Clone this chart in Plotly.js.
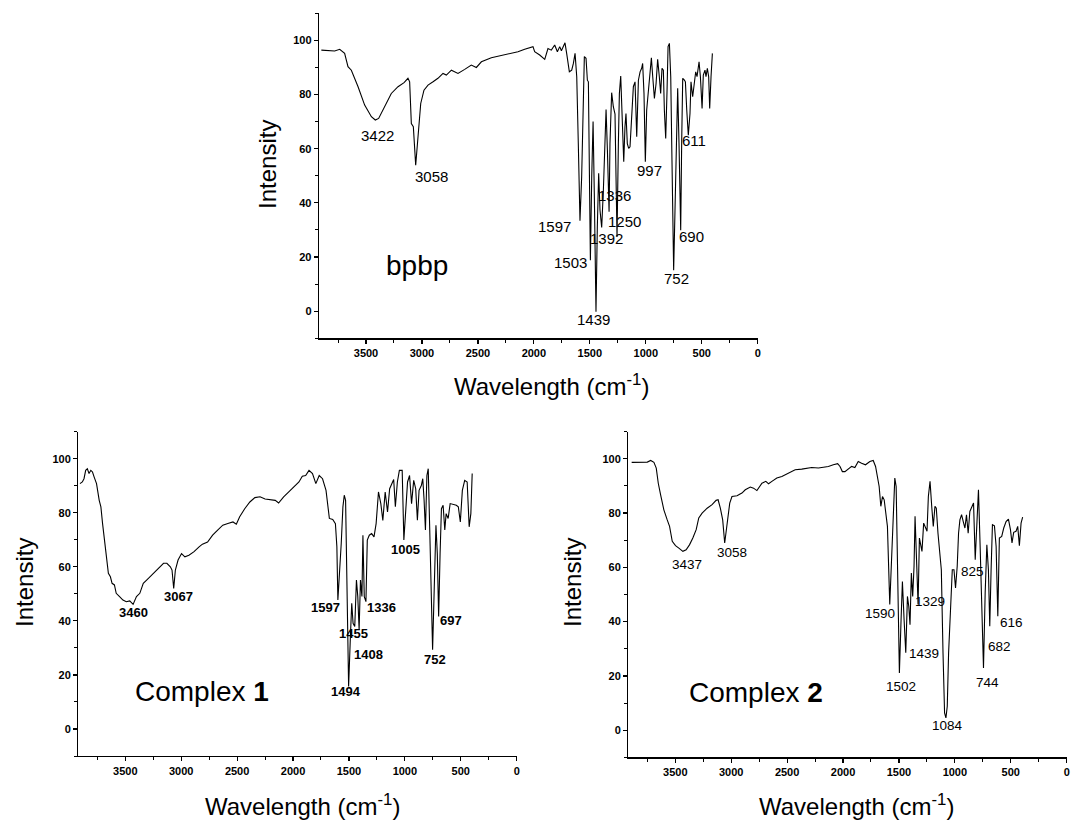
<!DOCTYPE html>
<html><head><meta charset="utf-8">
<script src="https://cdn.plot.ly/plotly-3.0.1.min.js"></script>
<style>html,body{margin:0;padding:0;background:#fff}#chart{width:1072px;height:820px}</style>
</head><body><div id="chart"></div>
<script>
// ---- bpbp spectrum ----
const bpbpWn = [3899,3840,3780,3735,3691,3661,3631,3571,3512,3452,3417,3387,3333,3274,3214,3160,3125,3110,3095,3077,3056,3035,3011,2982,2946,2901,2857,2812,2782,2737,2678,2618,2559,2514,2469,2380,2261,2142,2082,2008,1993,1948,1903,1874,1844,1814,1790,1769,1754,1722,1707,1683,1662,1647,1632,1617,1603,1588,1573,1558,1549,1534,1522,1513,1504,1495,1483,1471,1460,1445,1433,1421,1409,1394,1379,1364,1355,1343,1328,1320,1305,1290,1275,1266,1257,1245,1236,1224,1212,1197,1186,1177,1165,1153,1141,1126,1111,1096,1081,1066,1051,1037,1028,1016,1004,992,977,962,950,938,923,908,894,879,867,855,843,834,822,810,801,789,777,766,751,739,724,715,703,688,679,670,655,646,634,620,605,596,581,569,554,542,524,512,497,486,471,462,450,438,429,417,405];
const bpbpT = [96.4,96.2,96.1,96.7,95.2,90.3,89.0,82.9,76.1,71.8,70.6,71.2,75.5,80.4,82.9,84.4,86.0,84.7,69.3,68.1,53.9,64.4,76.7,81.6,83.5,84.7,86.0,87.8,87.2,89.0,87.8,89.3,90.9,90.0,92.1,93.6,94.6,95.8,96.7,97.7,95.8,94.6,93.0,97.0,96.4,98.3,95.8,97.7,96.2,99.1,95.2,88.4,89.0,91.5,95.2,86.6,61.9,33.4,49.6,86.6,94.0,93.4,85.3,84.7,49.6,18.8,49.6,70.0,43.5,-0.2,31.2,50.9,37.3,30.9,44.7,68.1,74.5,59.5,36.7,61.9,80.7,75.5,72.8,49.6,27.5,61.9,80.4,86.8,74.3,55.2,68.1,73.0,61.9,60.1,60.7,74.3,82.9,84.7,64.4,85.3,88.4,89.7,91.5,80.4,55.2,74.3,81.6,89.0,93.6,86.6,78.6,84.1,93.0,86.6,80.4,89.7,89.0,74.3,63.8,81.6,97.7,98.9,86.6,55.8,15.1,37.3,74.3,82.3,61.9,29.9,63.2,86.0,85.3,84.7,74.3,65.0,73.0,84.7,79.2,83.5,88.4,86.6,92.1,86.6,74.9,87.2,89.0,86.6,89.7,86.6,74.9,86.6,95.2];
const bpbpLabels = ['3422','3058','1597','1336','1250','1392','1503','1439','997','611','690','752'];
const bpbpLabelX = [3396,2919,1820,1281,1194,1349,1677,1469,971,566,590,724];
const bpbpLabelY = [64.7,49.6,31.2,42.9,33.0,26.8,18.0,-3.1,51.8,63.2,27.7,12.1];

// ---- Complex 1 spectrum ----
const c1Wn = [3905,3884,3869,3854,3839,3824,3808,3793,3778,3757,3733,3718,3703,3687,3666,3651,3633,3618,3597,3581,3551,3521,3491,3460,3430,3400,3370,3339,3309,3279,3249,3218,3188,3158,3128,3097,3082,3067,3052,3028,2997,2967,2931,2885,2840,2810,2764,2719,2674,2628,2583,2537,2507,2477,2432,2386,2341,2295,2250,2205,2159,2129,2084,2038,1993,1947,1917,1887,1857,1826,1796,1766,1736,1705,1675,1645,1621,1608,1599,1584,1569,1554,1542,1530,1518,1503,1487,1475,1463,1448,1433,1421,1409,1397,1384,1375,1363,1348,1336,1318,1297,1276,1257,1236,1215,1197,1176,1155,1136,1115,1100,1085,1067,1049,1024,1009,994,976,958,940,921,903,888,873,852,840,828,816,803,791,776,752,737,722,710,698,685,673,658,643,631,613,595,570,540,522,504,486,465,443,425,410,398];
const c1T = [90.8,91.4,92.6,95.7,96.3,94.5,95.7,95.1,93.2,90.8,84.6,82.2,76.0,69.9,62.5,57.6,56.3,53.9,53.3,50.2,49.0,47.7,47.1,47.4,46.1,49.0,50.2,53.9,55.1,56.3,57.6,58.8,60.0,61.3,61.3,60.0,58.8,52.0,58.8,62.5,64.9,63.7,64.3,65.6,67.4,68.4,69.2,71.7,73.6,75.4,76.0,76.6,75.8,78.5,81.5,84.0,85.6,85.9,85.1,84.9,84.6,83.6,85.9,87.7,89.5,91.4,93.5,93.8,95.7,94.5,90.8,93.8,92.6,88.3,77.9,77.5,76.0,67.4,47.7,56.3,68.6,82.2,86.5,84.6,55.1,15.7,34.2,46.5,39.1,37.9,55.1,49.0,36.7,55.1,49.0,71.7,49.0,47.1,69.9,71.7,72.3,71.1,76.0,87.7,83.4,77.2,87.7,80.3,88.9,90.8,92.3,82.2,91.4,95.7,95.7,69.9,80.9,91.4,93.8,83.4,92.0,88.9,77.2,88.3,90.2,92.6,84.6,73.6,93.8,96.3,71.1,29.3,52.6,75.4,64.9,41.6,64.9,81.5,82.8,73.6,79.7,77.9,83.4,83.2,82.8,82.2,76.6,88.3,92.0,91.4,74.8,79.7,94.5];
const c1Labels = ['3460','3067','1597','1336','1455','1408','1494','1005','752','697'];
const c1LabelX = [3430,3028,1714,1206,1463,1321,1524,994,730,585];
const c1LabelY = [43.2,49.2,44.9,44.9,35.2,27.4,13.9,66.4,25.6,40.3];

// ---- Complex 2 spectrum ----
const c2Wn = [3890,3824,3750,3720,3691,3670,3652,3631,3602,3572,3551,3527,3498,3468,3432,3403,3373,3343,3313,3290,3260,3215,3171,3135,3117,3097,3076,3058,3037,3013,2993,2948,2904,2874,2829,2800,2770,2725,2690,2666,2636,2592,2547,2488,2428,2369,2324,2280,2220,2176,2131,2087,2048,2027,2006,1983,1953,1923,1894,1864,1834,1799,1760,1730,1709,1692,1677,1662,1647,1632,1617,1603,1582,1567,1552,1537,1525,1513,1496,1481,1469,1454,1439,1424,1412,1401,1389,1377,1365,1356,1344,1329,1317,1305,1294,1279,1264,1249,1237,1222,1207,1193,1178,1166,1151,1136,1121,1106,1092,1080,1068,1056,1038,1023,1008,994,979,967,955,940,925,910,896,881,866,848,833,818,803,789,774,759,744,729,714,700,688,676,664,646,631,616,602,581,563,542,521,503,489,474,453,438,423,408,394];
const c2T = [98.7,98.7,98.8,99.4,98.7,96.6,91.0,86.7,81.2,77.5,75.1,69.6,68.0,67.1,65.9,66.5,68.3,70.8,73.9,78.2,80.0,81.8,83.1,84.7,84.9,81.8,77.5,69.0,76.3,83.7,86.1,86.4,87.4,88.6,89.6,89.2,88.3,91.0,91.7,90.8,91.7,92.9,93.5,94.7,96.0,96.2,96.6,96.8,96.6,96.8,97.2,97.8,98.2,97.2,95.3,95.3,96.2,97.2,96.8,99.0,98.4,97.8,99.0,99.4,97.2,92.9,89.8,82.5,86.1,84.9,79.4,75.1,46.3,62.8,83.7,92.9,89.8,53.0,21.1,40.7,54.8,40.7,28.5,49.3,45.6,38.9,57.9,49.3,60.4,78.8,62.8,46.3,70.8,67.7,65.9,76.3,74.5,73.3,86.1,91.7,82.5,75.1,82.5,81.8,72.6,64.0,59.1,28.5,6.4,4.5,8.8,28.5,49.3,59.1,59.1,52.4,60.4,72.6,77.5,79.4,76.9,74.5,79.4,72.6,80.6,82.5,83.7,62.8,80.0,88.6,67.7,40.7,22.9,50.6,68.3,59.1,38.3,59.1,75.7,75.3,67.7,42.0,70.8,71.4,74.5,76.9,77.8,73.9,69.0,72.9,73.3,75.1,68.0,76.3,78.5];
const c2Labels = ['3437','3058','1590','1329','1439','1502','1084','825','616','682','744'];
const c2LabelX = [3394,2993,1671,1225,1276,1478,1062,839,492,601,705];
const c2LabelY = [61.0,65.5,42.9,47.5,28.2,16.2,1.7,58.5,39.5,30.9,17.4];

// ---- axis settings ----
const xRange = [3920, 0];
const yRange = [-10, 110];
const xTitle = 'Wavelength (cm<sup>-1</sup>)';
const yTitle = 'Intensity';

const W = 1072, H = 820;
const FONT = 'Liberation Sans, Arial, Helvetica, sans-serif';
const px = v => v / W;
const py = v => 1 - v / H;

function xax(l, r, anchor) {
  return {domain: [px(l), px(r)], anchor: anchor, range: xRange, autorange: false,
    showline: true, linecolor: '#000', linewidth: 1.3, mirror: false,
    ticks: 'outside', ticklen: 4, tickwidth: 1.2, tickcolor: '#000',
    tickmode: 'linear', tick0: 0, dtick: 500,
    minor: {ticks: 'outside', ticklen: 3, tickwidth: 1, tickcolor: '#000', tick0: 0, dtick: 250},
    showgrid: false, zeroline: false,
    tickfont: {family: FONT, size: 11, color: '#000', weight: 'bold'}};
}
function yax(t, b, anchor) {
  return {domain: [py(b), py(t)], anchor: anchor, range: yRange, autorange: false,
    showline: true, linecolor: '#000', linewidth: 1.3, mirror: false,
    ticks: 'outside', ticklen: 4, tickwidth: 1.2, tickcolor: '#000',
    tickmode: 'linear', tick0: 0, dtick: 20,
    minor: {ticks: 'outside', ticklen: 3, tickwidth: 1, tickcolor: '#000', tick0: 0, dtick: 10},
    showgrid: false, zeroline: false,
    tickfont: {family: FONT, size: 11, color: '#000', weight: 'bold'}};
}

const line = {color: '#000', width: 1.1};
const data = [
  {x: bpbpWn, y: bpbpT, xaxis: 'x', yaxis: 'y', mode: 'lines', line: line, hoverinfo: 'skip'},
  {x: c1Wn, y: c1T, xaxis: 'x2', yaxis: 'y2', mode: 'lines', line: line, hoverinfo: 'skip'},
  {x: c2Wn, y: c2T, xaxis: 'x3', yaxis: 'y3', mode: 'lines', line: line, hoverinfo: 'skip'}
];

const ann = [];
function peakLabels(txt, xs, ys, xr, yr, size, weight) {
  txt.forEach((t, i) => ann.push({text: t, x: xs[i], y: ys[i], xref: xr, yref: yr,
    showarrow: false, xanchor: 'center', yanchor: 'middle',
    font: {family: FONT, size: size, color: '#000', weight: weight}}));
}
peakLabels(bpbpLabels, bpbpLabelX, bpbpLabelY, 'x', 'y', 15, 'normal');
peakLabels(c1Labels, c1LabelX, c1LabelY, 'x2', 'y2', 13, 'bold');
peakLabels(c2Labels, c2LabelX, c2LabelY, 'x3', 'y3', 13.5, 'normal');

// sample names
ann.push({text: 'bpbp', x: 3047, y: 17, xref: 'x', yref: 'y', showarrow: false,
  font: {family: FONT, size: 28, color: '#000'}});
ann.push({text: 'Complex <b>1</b>', x: 2816, y: 13.9, xref: 'x2', yref: 'y2', showarrow: false,
  font: {family: FONT, size: 28, color: '#000'}});
ann.push({text: 'Complex <b>2</b>', x: 2779, y: 13.7, xref: 'x3', yref: 'y3', showarrow: false,
  font: {family: FONT, size: 28, color: '#000'}});

// axis titles
function titles(yx, yy, xx, xy) {
  ann.push({text: yTitle, x: px(yx), y: py(yy), xref: 'paper', yref: 'paper', textangle: -90,
    showarrow: false, xanchor: 'center', yanchor: 'middle', font: {family: FONT, size: 24, color: '#000'}});
  ann.push({text: xTitle, x: px(xx), y: py(xy), xref: 'paper', yref: 'paper',
    showarrow: false, xanchor: 'center', yanchor: 'middle', font: {family: FONT, size: 24, color: '#000'}});
}
titles(268, 165, 551, 385);
titles(24, 583, 302, 805);
titles(572, 583, 856, 805);

const layout = {
  width: W, height: H, margin: {l: 0, r: 0, t: 0, b: 0},
  paper_bgcolor: '#fff', plot_bgcolor: '#fff', showlegend: false,
  xaxis: xax(319, 757.7, 'y'), yaxis: yax(13.3, 338.3, 'x'),
  xaxis2: xax(78.3, 516.7, 'y2'), yaxis2: yax(431.7, 756, 'x2'),
  xaxis3: xax(628.3, 1066.7, 'y3'), yaxis3: yax(431.7, 757.3, 'x3'),
  annotations: ann
};
Plotly.newPlot('chart', data, layout, {displayModeBar: false, staticPlot: true});
</script></body></html>
